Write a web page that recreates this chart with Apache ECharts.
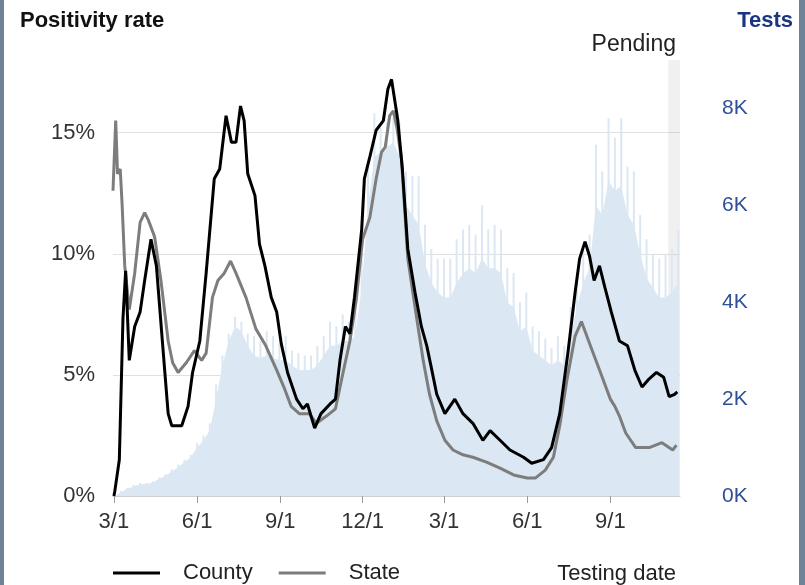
<!DOCTYPE html>
<html>
<head>
<meta charset="utf-8">
<script src="https://cdn.jsdelivr.net/npm/echarts@6/dist/echarts.min.js"></script>
<style>
html,body{margin:0;padding:0;background:#6f8397;width:805px;height:585px;overflow:hidden;}
#c{position:absolute;left:4px;top:0;width:795px;height:585px;background:#fff;}
</style>
</head>
<body>
<div id="c"></div>
<script>
// ---- data ----
const xTickLabels = ['2020-03-01','2020-06-01','2020-09-01','2020-12-01','2021-03-01','2021-06-01','2021-09-01'];
const xRange = ['2020-02-29','2021-11-17'];
const pendingRange = ['2021-11-04','2021-11-17'];
const leftTicks = [0, 5, 10, 15];

const countyRate = [
['2020-03-01',0],['2020-03-02',0.2],['2020-03-07',1.5],['2020-03-11',7.3],['2020-03-14',9.3],['2020-03-18',5.6],
['2020-03-24',7.0],['2020-03-30',7.6],['2020-04-04',8.9],['2020-04-11',10.6],['2020-04-17',9.5],['2020-04-24',6.2],
['2020-04-30',3.4],['2020-05-04',2.9],['2020-05-15',2.9],['2020-05-22',3.7],['2020-05-27',5.1],['2020-06-04',6.4],
['2020-06-11',9.2],['2020-06-20',13.1],['2020-06-26',13.5],['2020-07-03',15.7],['2020-07-09',14.6],['2020-07-14',14.6],
['2020-07-19',16.1],['2020-07-23',15.5],['2020-07-27',13.3],['2020-08-04',12.4],['2020-08-09',10.4],['2020-08-15',9.5],
['2020-08-22',8.2],['2020-08-28',7.6],['2020-09-02',6.3],['2020-09-09',5.1],['2020-09-19',4.0],['2020-09-26',3.6],
['2020-10-01',3.8],['2020-10-09',2.8],['2020-10-16',3.4],['2020-10-26',3.8],['2020-11-01',4.0],['2020-11-06',5.6],
['2020-11-12',7.0],['2020-11-17',6.7],['2020-11-22',8.2],['2020-11-30',11.0],['2020-12-03',13.1],['2020-12-09',14.0],
['2020-12-16',15.1],['2020-12-24',15.5],['2020-12-29',16.8],['2021-01-02',17.2],['2021-01-09',15.5],['2021-01-14',13.5],
['2021-01-20',10.2],['2021-01-28',8.4],['2021-02-04',7.0],['2021-02-10',6.2],['2021-02-15',5.3],['2021-02-21',4.2],
['2021-03-02',3.4],['2021-03-13',4.0],['2021-03-22',3.4],['2021-04-02',3.0],['2021-04-13',2.3],['2021-04-21',2.7],
['2021-05-02',2.3],['2021-05-13',1.9],['2021-05-28',1.6],['2021-06-06',1.35],['2021-06-19',1.5],['2021-06-28',2.0],
['2021-07-07',3.4],['2021-07-16',5.9],['2021-07-24',8.4],['2021-07-29',9.8],['2021-08-04',10.5],['2021-08-09',9.9],
['2021-08-14',8.9],['2021-08-20',9.5],['2021-08-26',8.6],['2021-09-02',7.6],['2021-09-11',6.4],['2021-09-20',6.2],
['2021-09-28',5.2],['2021-10-06',4.5],['2021-10-13',4.8],['2021-10-22',5.1],['2021-10-30',4.9],['2021-11-05',4.1],
['2021-11-11',4.2],['2021-11-14',4.3]
];

const stateRate = [
['2020-02-29',12.6],['2020-03-03',15.5],['2020-03-05',13.3],['2020-03-08',13.5],['2020-03-10',12.1],['2020-03-13',9.5],
['2020-03-18',7.7],['2020-03-24',9.2],['2020-03-30',11.3],['2020-04-04',11.7],['2020-04-08',11.4],['2020-04-15',10.7],
['2020-04-22',8.9],['2020-04-30',6.4],['2020-05-05',5.5],['2020-05-11',5.1],['2020-05-20',5.5],['2020-05-29',6.0],
['2020-06-06',5.6],['2020-06-11',5.9],['2020-06-18',8.2],['2020-06-24',8.9],['2020-07-01',9.2],['2020-07-08',9.7],
['2020-07-14',9.2],['2020-07-25',8.2],['2020-08-05',6.9],['2020-08-16',6.2],['2020-08-28',5.2],['2020-09-06',4.4],
['2020-09-13',3.7],['2020-09-22',3.4],['2020-10-03',3.4],['2020-10-11',3.0],['2020-10-22',3.3],['2020-11-01',3.6],
['2020-11-10',5.2],['2020-11-17',6.4],['2020-11-24',8.1],['2020-12-01',10.6],['2020-12-09',11.5],['2020-12-16',13.1],
['2020-12-22',14.2],['2020-12-26',14.4],['2020-12-31',15.7],['2021-01-04',15.9],['2021-01-08',15.2],['2021-01-13',13.9],
['2021-01-20',9.8],['2021-01-30',7.3],['2021-02-06',5.6],['2021-02-13',4.2],['2021-02-21',3.1],['2021-03-02',2.3],
['2021-03-11',1.9],['2021-03-22',1.7],['2021-04-02',1.6],['2021-04-17',1.4],['2021-05-02',1.15],['2021-05-17',0.87],
['2021-06-01',0.74],['2021-06-10',0.74],['2021-06-21',1.07],['2021-06-30',1.6],['2021-07-07',2.9],['2021-07-15',4.8],
['2021-07-24',6.6],['2021-07-31',7.2],['2021-08-09',6.3],['2021-08-20',5.2],['2021-09-01',4.0],['2021-09-06',3.7],
['2021-09-11',3.3],['2021-09-18',2.6],['2021-09-29',2.0],['2021-10-14',2.0],['2021-10-28',2.2],['2021-11-09',1.9],
['2021-11-13',2.1]
];

// weekly tests (thousands), one value per week starting at testsFirstWeek
const testsFirstWeek = '2020-03-02';
const testsPeak = [
0, 0.1, 0.17, 0.23, 0.27, 0.27, 0.3, 0.38, 0.45, 0.55,
0.65, 0.75, 0.85, 1.1, 1.25, 1.5, 2.3, 2.9, 3.35, 3.7,
3.6, 3.35, 3.3, 3.2, 3.4, 3.3, 3.15, 3.3, 3.0, 2.95,
2.9, 2.9, 3.1, 3.3, 3.6, 3.5, 3.75, 3.6, 3.8, 5.0,
6.8, 7.9, 7.6, 7.7, 7.8, 7.7, 6.7, 6.6, 6.6, 5.6,
5.1, 4.9, 4.9, 4.9, 5.3, 5.5, 5.6, 5.4, 6.0, 5.5,
5.6, 5.5, 4.7, 4.6, 4.0, 4.2, 3.5, 3.4, 3.25, 3.05,
3.3, 3.1, 3.9, 4.6, 5.1, 5.4, 7.25, 6.7, 7.8, 7.4,
7.8, 6.8, 6.7, 5.8, 5.3, 5.0, 4.9, 5.0, 5.1, 5.5
];
const testsTypical = [
0, 0.08, 0.15, 0.2, 0.24, 0.25, 0.28, 0.35, 0.42, 0.5,
0.6, 0.7, 0.8, 1.0, 1.15, 1.35, 2.0, 2.7, 3.2, 3.5,
3.4, 3.1, 2.9, 2.85, 2.9, 2.85, 2.8, 2.8, 2.7, 2.6,
2.6, 2.6, 2.7, 2.9, 3.1, 3.1, 3.2, 3.2, 3.3, 4.3,
6.0, 7.0, 7.1, 7.2, 7.3, 7.0, 6.0, 5.8, 5.6, 4.8,
4.4, 4.2, 4.1, 4.1, 4.4, 4.6, 4.7, 4.6, 4.9, 4.7,
4.7, 4.6, 4.0, 3.9, 3.4, 3.5, 3.0, 2.9, 2.8, 2.7,
2.8, 2.7, 3.3, 3.9, 4.4, 4.7, 6.0, 5.8, 6.5, 6.3,
6.4, 5.8, 5.6, 5.0, 4.5, 4.3, 4.1, 4.1, 4.2, 4.4
];

// ---- build ----
function toTs(s){ const p = s.split('-').map(Number); return new Date(p[0], p[1]-1, p[2]).getTime(); }
const DAY = 86400000;
const weekTs = testsPeak.map((_, i) => toTs(testsFirstWeek) + i * 7 * DAY);
const tickTs = xTickLabels.map(toTs);
const FONT = '"Liberation Sans", Arial, sans-serif';
const blue = '#dce7f4';
const pts = arr => arr.map(d => [toTs(d[0]), d[1]]);

const chart = echarts.init(document.getElementById('c'));
chart.setOption({
  animation: false,
  grid: { left: 109, right: 119, top: 60, bottom: 89, containLabel: false },
  legend: {
    data: ['County', 'State'],
    left: 109, top: 562, padding: 0,
    itemWidth: 47, itemHeight: 3, itemGap: 26,
    icon: 'rect',
    textStyle: { fontFamily: FONT, fontSize: 22, color: '#222', padding: [0, 0, 0, 18] }
  },
  xAxis: {
    type: 'value',
    min: toTs(xRange[0]), max: toTs(xRange[1]),
    axisLine: { show: true, lineStyle: { color: '#cfcfcf', width: 1 } },
    axisTick: { show: true, length: 7, lineStyle: { color: '#999' }, customValues: tickTs },
    axisLabel: {
      customValues: tickTs,
      fontFamily: FONT, fontSize: 22, color: '#333', margin: 15,
      formatter: v => { const d = new Date(v); return (d.getMonth() + 1) + '/' + d.getDate(); }
    },
    splitLine: { show: false }
  },
  yAxis: [
    {
      type: 'value', min: 0, max: 18, interval: 5,
      axisLine: { show: false }, axisTick: { show: false, customValues: leftTicks },
      axisLabel: { customValues: leftTicks, fontFamily: FONT, fontSize: 22, color: '#333', margin: 18, formatter: '{value}%' },
      splitLine: { show: true, lineStyle: { color: '#e0e0e0', width: 1 } }
    },
    {
      type: 'value', min: 0, max: 9, interval: 2, position: 'right',
      axisLine: { show: false }, axisTick: { show: false },
      axisLabel: { fontFamily: FONT, fontSize: 21, color: '#2f4f97', margin: 42, formatter: '{value}K', showMaxLabel: false },
      splitLine: { show: false }
    }
  ],
  series: [
    {
      name: 'Tests typical', type: 'line', yAxisIndex: 1, symbol: 'none',
      lineStyle: { width: 0 }, areaStyle: { color: blue, opacity: 1 }, itemStyle: { color: blue },
      data: weekTs.map((t, i) => [t, testsTypical[i]]), z: 1,
      markArea: { silent: true, itemStyle: { color: 'rgba(170,170,170,0.18)' },
        data: [[{ xAxis: toTs(pendingRange[0]) }, { xAxis: toTs(pendingRange[1]) }]] }
    },
    {
      name: 'Tests peak', type: 'bar', yAxisIndex: 1, barWidth: 2,
      itemStyle: { color: blue }, data: weekTs.map((t, i) => [t, testsPeak[i]]), z: 1
    },
    {
      name: 'State', type: 'line', yAxisIndex: 0, symbol: 'none', showSymbol: false,
      lineStyle: { color: '#7d7d7d', width: 3 }, itemStyle: { color: '#7d7d7d' },
      data: pts(stateRate), z: 3
    },
    {
      name: 'County', type: 'line', yAxisIndex: 0, symbol: 'none', showSymbol: false,
      lineStyle: { color: '#000', width: 3 }, itemStyle: { color: '#000' },
      data: pts(countyRate), z: 4
    }
  ],
  graphic: [
    { type: 'text', left: 16, top: 10, style: { text: 'Positivity rate', font: 'bold 22px ' + FONT, fill: '#111' } },
    { type: 'text', right: 6, top: 10, style: { text: 'Tests', font: 'bold 22px ' + FONT, fill: '#1c3580' } },
    { type: 'text', right: 123, top: 33, style: { text: 'Pending', font: '23px ' + FONT, fill: '#222' } },
    { type: 'text', right: 123, top: 563, style: { text: 'Testing date', font: '22px ' + FONT, fill: '#222' } }
  ]
});
</script>
</body>
</html>
